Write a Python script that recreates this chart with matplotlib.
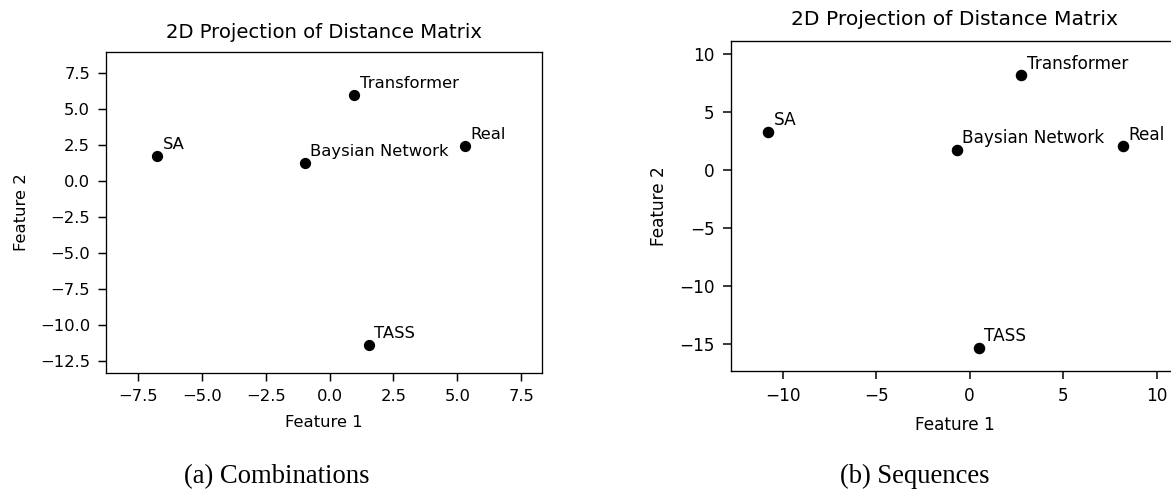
import matplotlib
matplotlib.use("Agg")
import matplotlib.pyplot as plt
from matplotlib.ticker import MultipleLocator

labels = ["Real", "Transformer", "Baysian Network", "SA", "TASS"]

# (a) combinations
comb_x = [5.30, 0.96, -0.98, -6.76, 1.53]
comb_y = [2.40, 5.97, 1.26, 1.75, -11.39]

# (b) sequences
seq_x = [8.19, 2.75, -0.70, -10.79, 0.49]
seq_y = [2.04, 8.16, 1.75, 3.30, -15.32]

fig = plt.figure(figsize=(11.71, 4.94), dpi=100)

panels = [
    (comb_x, comb_y, [0.0903, 0.2443, 0.3723, 0.651], 1.18, 2.5, "(a) Combinations", 0.236, 10),
    (seq_x, seq_y, [0.624, 0.249, 0.3827, 0.6686], 1.215, 5, "(b) Sequences", 0.781, 11.5),
]

for xs, ys, rect, k, step, caption, cap_x, tpad in panels:
    ax = fig.add_axes(rect)
    ax.scatter(xs, ys, color="black", s=36 * k * k, zorder=3)
    for lab, x, y in zip(labels, xs, ys):
        ax.annotate(lab, (x, y), textcoords="offset points", xytext=(4, 5),
                    fontsize=10 * k)
    ax.set_xlim(min(xs) - 2, max(xs) + 3)
    ax.set_ylim(min(ys) - 2, max(ys) + 3)
    ax.xaxis.set_major_locator(MultipleLocator(step))
    ax.yaxis.set_major_locator(MultipleLocator(step))
    ax.set_title("2D Projection of Distance Matrix", fontsize=12 * k, pad=tpad)
    ax.set_xlabel("Feature 1", fontsize=10 * k, labelpad=4 * k + 3)
    ax.set_ylabel("Feature 2", fontsize=10 * k, labelpad=4 * k + 3)
    ax.tick_params(labelsize=10 * k, length=4.9 * k, width=0.9 * k, pad=4.7 * k)
    for sp in ax.spines.values():
        sp.set_linewidth(0.8 * k)
    fig.text(cap_x, 1 - 483 / 494, caption, ha="center", va="baseline",
             family="Liberation Serif", fontsize=19.2)

fig.savefig("out.png", dpi=100)
